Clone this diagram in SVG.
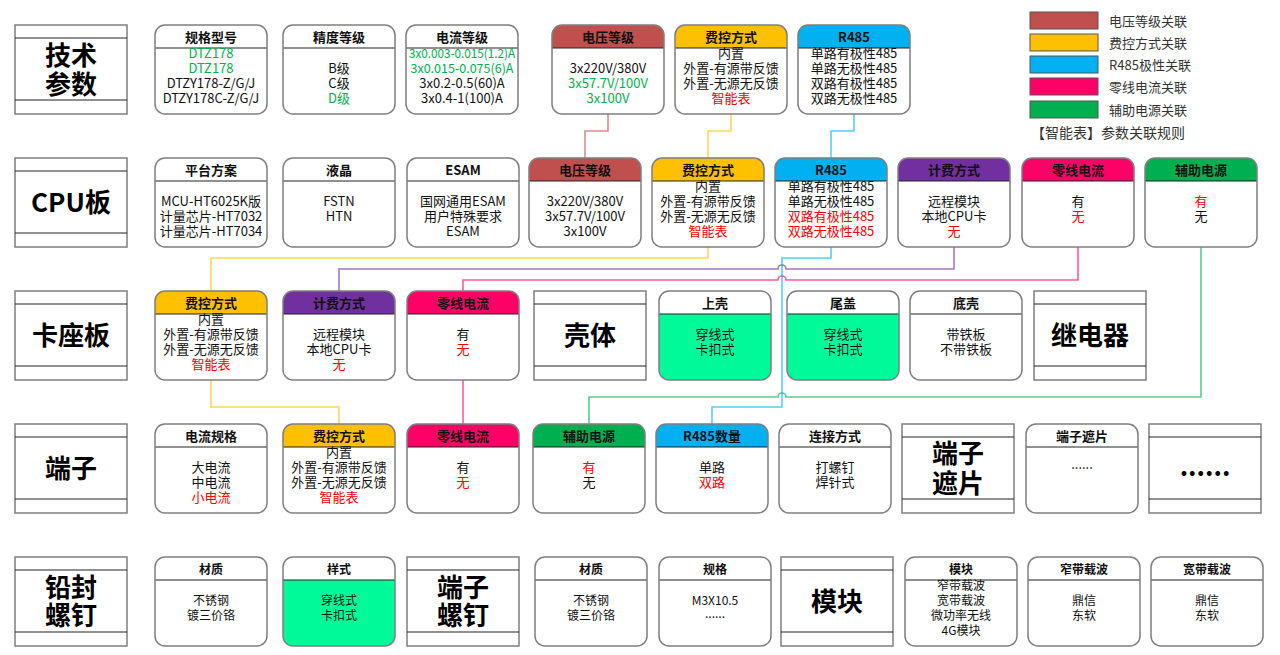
<svg xmlns="http://www.w3.org/2000/svg" xmlns:xlink="http://www.w3.org/1999/xlink" width="1280" height="655" viewBox="0 0 1280 655">
<style>
text{font-family:"Noto Sans CJK SC","Noto Sans",sans-serif;font-size:13px;fill:#111;text-anchor:middle}
.h{font-weight:700}
.s{font-size:12px}
.n{font-size:12.5px}
.g{fill:#00B050}
.r{fill:#FF0000}
.lab{font-size:26px;font-weight:700;fill:#000}
.bg{fill:#fff}
.mint{fill:#00FA9A}
.frame{fill:none;stroke:#7f7f7f;stroke-width:1.5}
.lbox{fill:#fff;stroke:#7f7f7f;stroke-width:1.5}
.sep{stroke:#222;stroke-width:1.2}
.hR{fill:#C0504D}.hY{fill:#FFC000}.hB{fill:#00B0F0}.hP{fill:#7030A0}.hK{fill:#FF0066}.hG{fill:#00B050}.hW{fill:#fff}
.c{fill:none;stroke-width:1.6;stroke-opacity:0.65}
.cR{stroke:#C0504D}.cY{stroke:#FFC000}.cB{stroke:#00B0F0}.cP{stroke:#7030A0}.cK{stroke:#FF0066}.cG{stroke:#00B050}
.leg{stroke:#555;stroke-width:1}
.lt{text-anchor:start;fill:#333}
</style>
<defs>
<path id="hd" d="M0,23 V10 A10,10 0 0 1 10,0 H102 A10,10 0 0 1 112,10 V23 Z"/>
</defs>
<rect width="1280" height="655" fill="#fff"/>

<!-- connectors -->
<g id="connectors">
<path class="c cR" d="M608,114 V131 H585 V158"/>
<path class="c cY" d="M731,114 V131 H708 V158"/>
<path class="c cB" d="M854,114 V131 H831 V158"/>
<path class="c cY" d="M708,247 V258 H211 V291"/>
<path class="c cY" d="M211,380 V407 H339 V424"/>
<path class="c cP" d="M954,247 V269 H786 A4,4 0 0 0 778,269 H339 V291"/>
<path class="c cK" d="M1078,247 V280 H786 A4,4 0 0 0 778,280 H463 V291"/>
<path class="c cK" d="M463,380 V424"/>
<path class="c cG" d="M1201,247 V397 H786 A4,4 0 0 0 778,397 H589 V424"/>
<path class="c cB" d="M831,247 V258 H782 V407 H712 V424"/>
</g>

<!-- legend -->
<g id="legend">
<rect class="leg" x="1030" y="12" width="68" height="17" fill="#C0504D"/>
<rect class="leg" x="1030" y="34" width="68" height="17" fill="#FFC000"/>
<rect class="leg" x="1030" y="56" width="68" height="17" fill="#00B0F0"/>
<rect class="leg" x="1030" y="78" width="68" height="17" fill="#FF0066"/>
<rect class="leg" x="1030" y="101" width="68" height="17" fill="#00B050"/>
<text class="lt" x="1109" y="26">电压等级关联</text>
<text class="lt" x="1109" y="48">费控方式关联</text>
<text class="lt" x="1109" y="70">R485极性关联</text>
<text class="lt" x="1109" y="92">零线电流关联</text>
<text class="lt" x="1109" y="115">辅助电源关联</text>
<text class="lt r" x="1031" y="138" style="font-size:14px">【智能表】参数关联规则</text>
</g>

<!-- label boxes -->
<g id="lab-jishucanshu" transform="translate(15,25)"><rect class="lbox" width="112" height="89"/><line class="sep" x1="0" y1="13" x2="112" y2="13"/><line class="sep" x1="0" y1="75" x2="112" y2="75"/><text class="lab"><tspan x="56" y="40">技术</tspan><tspan x="56" y="69">参数</tspan></text></g>
<g id="lab-cpu" transform="translate(15,158)"><rect class="lbox" width="112" height="89"/><line class="sep" x1="0" y1="13" x2="112" y2="13"/><line class="sep" x1="0" y1="75" x2="112" y2="75"/><text class="lab" x="56" y="54">CPU板</text></g>
<g id="lab-kazuoban" transform="translate(15,291)"><rect class="lbox" width="112" height="89"/><line class="sep" x1="0" y1="13" x2="112" y2="13"/><line class="sep" x1="0" y1="75" x2="112" y2="75"/><text class="lab" x="56" y="54">卡座板</text></g>
<g id="lab-keti" transform="translate(534,291)"><rect class="lbox" width="112" height="89"/><line class="sep" x1="0" y1="13" x2="112" y2="13"/><line class="sep" x1="0" y1="75" x2="112" y2="75"/><text class="lab" x="56" y="54">壳体</text></g>
<g id="lab-jidianqi" transform="translate(1034,291)"><rect class="lbox" width="112" height="89"/><line class="sep" x1="0" y1="13" x2="112" y2="13"/><line class="sep" x1="0" y1="75" x2="112" y2="75"/><text class="lab" x="56" y="54">继电器</text></g>
<g id="lab-duanzi" transform="translate(15,424)"><rect class="lbox" width="112" height="89"/><line class="sep" x1="0" y1="13" x2="112" y2="13"/><line class="sep" x1="0" y1="75" x2="112" y2="75"/><text class="lab" x="56" y="54">端子</text></g>
<g id="lab-duanzizhepian" transform="translate(902,424)"><rect class="lbox" width="112" height="89"/><line class="sep" x1="0" y1="13" x2="112" y2="13"/><line class="sep" x1="0" y1="75" x2="112" y2="75"/><text class="lab"><tspan x="56" y="39">端子</tspan><tspan x="56" y="69">遮片</tspan></text></g>
<g id="lab-more" transform="translate(1149,424)"><rect class="lbox" width="112" height="89"/><line class="sep" x1="0" y1="13" x2="112" y2="13"/><line class="sep" x1="0" y1="75" x2="112" y2="75"/><text class="lab" x="56" y="52">......</text></g>
<g id="lab-qianfeng" transform="translate(15,557)"><rect class="lbox" width="112" height="89"/><line class="sep" x1="0" y1="13" x2="112" y2="13"/><line class="sep" x1="0" y1="75" x2="112" y2="75"/><text class="lab"><tspan x="56" y="40">铅封</tspan><tspan x="56" y="68">螺钉</tspan></text></g>
<g id="lab-duanziluoding" transform="translate(407,557)"><rect class="lbox" width="112" height="89"/><line class="sep" x1="0" y1="13" x2="112" y2="13"/><line class="sep" x1="0" y1="75" x2="112" y2="75"/><text class="lab"><tspan x="56" y="40">端子</tspan><tspan x="56" y="68">螺钉</tspan></text></g>
<g id="lab-mokuai" transform="translate(781,557)"><rect class="lbox" width="112" height="89"/><line class="sep" x1="0" y1="13" x2="112" y2="13"/><line class="sep" x1="0" y1="75" x2="112" y2="75"/><text class="lab" x="56" y="54">模块</text></g>

<!-- row 1 -->
<g id="r1-guige" transform="translate(155,25)"><rect class="bg" width="112" height="89" rx="10"/><line class="sep" x1="0" y1="23" x2="112" y2="23"/><rect class="frame" width="112" height="89" rx="10"/><text class="h" x="56" y="17">规格型号</text><text><tspan class="g" x="56" y="33">DTZ178</tspan><tspan class="g" x="56" y="48">DTZ178</tspan><tspan x="56" y="63">DTZY178-Z/G/J</tspan><tspan x="56" y="78">DTZY178C-Z/G/J</tspan></text></g>
<g id="r1-jingdu" transform="translate(283,25)"><rect class="bg" width="112" height="89" rx="10"/><line class="sep" x1="0" y1="23" x2="112" y2="23"/><rect class="frame" width="112" height="89" rx="10"/><text class="h" x="56" y="17">精度等级</text><text><tspan x="56" y="48">B级</tspan><tspan x="56" y="63">C级</tspan><tspan class="g" x="56" y="78">D级</tspan></text></g>
<g id="r1-dianliu" transform="translate(406,25)"><rect class="bg" width="112" height="89" rx="10"/><line class="sep" x1="0" y1="23" x2="112" y2="23"/><rect class="frame" width="112" height="89" rx="10"/><text class="h" x="56" y="17">电流等级</text><text class="g n" x="56" y="33" textLength="106" lengthAdjust="spacingAndGlyphs">3x0.003-0.015(1.2)A</text><text><tspan class="g n" x="56" y="48">3x0.015-0.075(6)A</tspan><tspan x="56" y="63">3x0.2-0.5(60)A</tspan><tspan x="56" y="78">3x0.4-1(100)A</tspan></text></g>
<g id="r1-dianya" transform="translate(552,25)"><rect class="bg" width="112" height="89" rx="10"/><use xlink:href="#hd" class="hR"/><line class="sep" x1="0" y1="23" x2="112" y2="23"/><rect class="frame" width="112" height="89" rx="10"/><text class="h" x="56" y="17">电压等级</text><text><tspan x="56" y="48">3x220V/380V</tspan><tspan class="g" x="56" y="63">3x57.7V/100V</tspan><tspan class="g" x="56" y="78">3x100V</tspan></text></g>
<g id="r1-feikong" transform="translate(675,25)"><rect class="bg" width="112" height="89" rx="10"/><use xlink:href="#hd" class="hY"/><line class="sep" x1="0" y1="23" x2="112" y2="23"/><rect class="frame" width="112" height="89" rx="10"/><text class="h" x="56" y="17">费控方式</text><text><tspan x="56" y="33">内置</tspan><tspan x="56" y="48">外置-有源带反馈</tspan><tspan x="56" y="63">外置-无源无反馈</tspan><tspan class="r" x="56" y="78">智能表</tspan></text></g>
<g id="r1-r485" transform="translate(798,25)"><rect class="bg" width="112" height="89" rx="10"/><use xlink:href="#hd" class="hB"/><line class="sep" x1="0" y1="23" x2="112" y2="23"/><rect class="frame" width="112" height="89" rx="10"/><text class="h" x="56" y="17">R485</text><text><tspan x="56" y="33">单路有极性485</tspan><tspan x="56" y="48">单路无极性485</tspan><tspan x="56" y="63">双路有极性485</tspan><tspan x="56" y="78">双路无极性485</tspan></text></g>

<!-- row 2 -->
<g id="r2-pingtai" transform="translate(155,158)"><rect class="bg" width="112" height="89" rx="10"/><line class="sep" x1="0" y1="23" x2="112" y2="23"/><rect class="frame" width="112" height="89" rx="10"/><text class="h" x="56" y="17">平台方案</text><text><tspan x="56" y="48">MCU-HT6025K版</tspan><tspan x="56" y="63">计量芯片-HT7032</tspan><tspan x="56" y="78">计量芯片-HT7034</tspan></text></g>
<g id="r2-yejing" transform="translate(283,158)"><rect class="bg" width="112" height="89" rx="10"/><line class="sep" x1="0" y1="23" x2="112" y2="23"/><rect class="frame" width="112" height="89" rx="10"/><text class="h" x="56" y="17">液晶</text><text><tspan x="56" y="48">FSTN</tspan><tspan x="56" y="63">HTN</tspan></text></g>
<g id="r2-esam" transform="translate(407,158)"><rect class="bg" width="112" height="89" rx="10"/><line class="sep" x1="0" y1="23" x2="112" y2="23"/><rect class="frame" width="112" height="89" rx="10"/><text class="h" x="56" y="17">ESAM</text><text><tspan x="56" y="48">国网通用ESAM</tspan><tspan x="56" y="63">用户特殊要求</tspan><tspan x="56" y="78">ESAM</tspan></text></g>
<g id="r2-dianya" transform="translate(529,158)"><rect class="bg" width="112" height="89" rx="10"/><use xlink:href="#hd" class="hR"/><line class="sep" x1="0" y1="23" x2="112" y2="23"/><rect class="frame" width="112" height="89" rx="10"/><text class="h" x="56" y="17">电压等级</text><text><tspan x="56" y="48">3x220V/380V</tspan><tspan x="56" y="63">3x57.7V/100V</tspan><tspan x="56" y="78">3x100V</tspan></text></g>
<g id="r2-feikong" transform="translate(652,158)"><rect class="bg" width="112" height="89" rx="10"/><use xlink:href="#hd" class="hY"/><line class="sep" x1="0" y1="23" x2="112" y2="23"/><rect class="frame" width="112" height="89" rx="10"/><text class="h" x="56" y="17">费控方式</text><text><tspan x="56" y="33">内置</tspan><tspan x="56" y="48">外置-有源带反馈</tspan><tspan x="56" y="63">外置-无源无反馈</tspan><tspan class="r" x="56" y="78">智能表</tspan></text></g>
<g id="r2-r485" transform="translate(775,158)"><rect class="bg" width="112" height="89" rx="10"/><use xlink:href="#hd" class="hB"/><line class="sep" x1="0" y1="23" x2="112" y2="23"/><rect class="frame" width="112" height="89" rx="10"/><text class="h" x="56" y="17">R485</text><text><tspan x="56" y="33">单路有极性485</tspan><tspan x="56" y="48">单路无极性485</tspan><tspan class="r" x="56" y="63">双路有极性485</tspan><tspan class="r" x="56" y="78">双路无极性485</tspan></text></g>
<g id="r2-jifei" transform="translate(898,158)"><rect class="bg" width="112" height="89" rx="10"/><use xlink:href="#hd" class="hP"/><line class="sep" x1="0" y1="23" x2="112" y2="23"/><rect class="frame" width="112" height="89" rx="10"/><text class="h" x="56" y="17">计费方式</text><text><tspan x="56" y="48">远程模块</tspan><tspan x="56" y="63">本地CPU卡</tspan><tspan class="r" x="56" y="78">无</tspan></text></g>
<g id="r2-lingxian" transform="translate(1022,158)"><rect class="bg" width="112" height="89" rx="10"/><use xlink:href="#hd" class="hK"/><line class="sep" x1="0" y1="23" x2="112" y2="23"/><rect class="frame" width="112" height="89" rx="10"/><text class="h" x="56" y="17">零线电流</text><text><tspan x="56" y="48">有</tspan><tspan class="r" x="56" y="63">无</tspan></text></g>
<g id="r2-fuzhu" transform="translate(1145,158)"><rect class="bg" width="112" height="89" rx="10"/><use xlink:href="#hd" class="hG"/><line class="sep" x1="0" y1="23" x2="112" y2="23"/><rect class="frame" width="112" height="89" rx="10"/><text class="h" x="56" y="17">辅助电源</text><text><tspan class="r" x="56" y="48">有</tspan><tspan x="56" y="63">无</tspan></text></g>

<!-- row 3 -->
<g id="r3-feikong" transform="translate(155,291)"><rect class="bg" width="112" height="89" rx="10"/><use xlink:href="#hd" class="hY"/><line class="sep" x1="0" y1="23" x2="112" y2="23"/><rect class="frame" width="112" height="89" rx="10"/><text class="h" x="56" y="17">费控方式</text><text><tspan x="56" y="33">内置</tspan><tspan x="56" y="48">外置-有源带反馈</tspan><tspan x="56" y="63">外置-无源无反馈</tspan><tspan class="r" x="56" y="78">智能表</tspan></text></g>
<g id="r3-jifei" transform="translate(283,291)"><rect class="bg" width="112" height="89" rx="10"/><use xlink:href="#hd" class="hP"/><line class="sep" x1="0" y1="23" x2="112" y2="23"/><rect class="frame" width="112" height="89" rx="10"/><text class="h" x="56" y="17">计费方式</text><text><tspan x="56" y="48">远程模块</tspan><tspan x="56" y="63">本地CPU卡</tspan><tspan class="r" x="56" y="78">无</tspan></text></g>
<g id="r3-lingxian" transform="translate(407,291)"><rect class="bg" width="112" height="89" rx="10"/><use xlink:href="#hd" class="hK"/><line class="sep" x1="0" y1="23" x2="112" y2="23"/><rect class="frame" width="112" height="89" rx="10"/><text class="h" x="56" y="17">零线电流</text><text><tspan x="56" y="48">有</tspan><tspan class="r" x="56" y="63">无</tspan></text></g>
<g id="r3-shangke" transform="translate(659,291)"><rect class="mint" width="112" height="89" rx="10"/><use xlink:href="#hd" class="hW"/><line class="sep" x1="0" y1="23" x2="112" y2="23"/><rect class="frame" width="112" height="89" rx="10"/><text class="h" x="56" y="17">上壳</text><text><tspan x="56" y="48">穿线式</tspan><tspan x="56" y="63">卡扣式</tspan></text></g>
<g id="r3-weigai" transform="translate(787,291)"><rect class="mint" width="112" height="89" rx="10"/><use xlink:href="#hd" class="hW"/><line class="sep" x1="0" y1="23" x2="112" y2="23"/><rect class="frame" width="112" height="89" rx="10"/><text class="h" x="56" y="17">尾盖</text><text><tspan x="56" y="48">穿线式</tspan><tspan x="56" y="63">卡扣式</tspan></text></g>
<g id="r3-dike" transform="translate(910,291)"><rect class="bg" width="112" height="89" rx="10"/><line class="sep" x1="0" y1="23" x2="112" y2="23"/><rect class="frame" width="112" height="89" rx="10"/><text class="h" x="56" y="17">底壳</text><text><tspan x="56" y="48">带铁板</tspan><tspan x="56" y="63">不带铁板</tspan></text></g>

<!-- row 4 -->
<g id="r4-dianliuguige" transform="translate(155,424)"><rect class="bg" width="112" height="89" rx="10"/><line class="sep" x1="0" y1="23" x2="112" y2="23"/><rect class="frame" width="112" height="89" rx="10"/><text class="h" x="56" y="17">电流规格</text><text><tspan x="56" y="48">大电流</tspan><tspan x="56" y="63">中电流</tspan><tspan class="r" x="56" y="78">小电流</tspan></text></g>
<g id="r4-feikong" transform="translate(283,424)"><rect class="bg" width="112" height="89" rx="10"/><use xlink:href="#hd" class="hY"/><line class="sep" x1="0" y1="23" x2="112" y2="23"/><rect class="frame" width="112" height="89" rx="10"/><text class="h" x="56" y="17">费控方式</text><text><tspan x="56" y="33">内置</tspan><tspan x="56" y="48">外置-有源带反馈</tspan><tspan x="56" y="63">外置-无源无反馈</tspan><tspan class="r" x="56" y="78">智能表</tspan></text></g>
<g id="r4-lingxian" transform="translate(407,424)"><rect class="bg" width="112" height="89" rx="10"/><use xlink:href="#hd" class="hK"/><line class="sep" x1="0" y1="23" x2="112" y2="23"/><rect class="frame" width="112" height="89" rx="10"/><text class="h" x="56" y="17">零线电流</text><text><tspan x="56" y="48">有</tspan><tspan class="r" x="56" y="63">无</tspan></text></g>
<g id="r4-fuzhu" transform="translate(533,424)"><rect class="bg" width="112" height="89" rx="10"/><use xlink:href="#hd" class="hG"/><line class="sep" x1="0" y1="23" x2="112" y2="23"/><rect class="frame" width="112" height="89" rx="10"/><text class="h" x="56" y="17">辅助电源</text><text><tspan class="r" x="56" y="48">有</tspan><tspan x="56" y="63">无</tspan></text></g>
<g id="r4-r485num" transform="translate(656,424)"><rect class="bg" width="112" height="89" rx="10"/><use xlink:href="#hd" class="hB"/><line class="sep" x1="0" y1="23" x2="112" y2="23"/><rect class="frame" width="112" height="89" rx="10"/><text class="h" x="56" y="17">R485数量</text><text><tspan x="56" y="48">单路</tspan><tspan class="r" x="56" y="63">双路</tspan></text></g>
<g id="r4-lianjie" transform="translate(779,424)"><rect class="bg" width="112" height="89" rx="10"/><line class="sep" x1="0" y1="23" x2="112" y2="23"/><rect class="frame" width="112" height="89" rx="10"/><text class="h" x="56" y="17">连接方式</text><text><tspan x="56" y="48">打螺钉</tspan><tspan x="56" y="63">焊针式</tspan></text></g>
<g id="r4-zhepian" transform="translate(1026,424)"><rect class="bg" width="112" height="89" rx="10"/><line class="sep" x1="0" y1="23" x2="112" y2="23"/><rect class="frame" width="112" height="89" rx="10"/><text class="h" x="56" y="17">端子遮片</text><text x="56" y="45">......</text></g>

<!-- row 5 -->
<g id="r5-caizhi1" transform="translate(155,557)"><rect class="bg" width="112" height="89" rx="10"/><line class="sep" x1="0" y1="23" x2="112" y2="23"/><rect class="frame" width="112" height="89" rx="10"/><text class="h s" x="56" y="17">材质</text><text class="s"><tspan x="56" y="48">不锈钢</tspan><tspan x="56" y="63">镀三价铬</tspan></text></g>
<g id="r5-yangshi" transform="translate(283,557)"><rect class="mint" width="112" height="89" rx="10"/><use xlink:href="#hd" class="hW"/><line class="sep" x1="0" y1="23" x2="112" y2="23"/><rect class="frame" width="112" height="89" rx="10"/><text class="h s" x="56" y="17">样式</text><text class="s"><tspan x="56" y="48">穿线式</tspan><tspan x="56" y="63">卡扣式</tspan></text></g>
<g id="r5-caizhi2" transform="translate(535,557)"><rect class="bg" width="112" height="89" rx="10"/><line class="sep" x1="0" y1="23" x2="112" y2="23"/><rect class="frame" width="112" height="89" rx="10"/><text class="h s" x="56" y="17">材质</text><text class="s"><tspan x="56" y="48">不锈钢</tspan><tspan x="56" y="63">镀三价铬</tspan></text></g>
<g id="r5-guige" transform="translate(659,557)"><rect class="bg" width="112" height="89" rx="10"/><line class="sep" x1="0" y1="23" x2="112" y2="23"/><rect class="frame" width="112" height="89" rx="10"/><text class="h s" x="56" y="17">规格</text><text class="s"><tspan x="56" y="48">M3X10.5</tspan><tspan x="56" y="61">......</tspan></text></g>
<g id="r5-mokuai" transform="translate(905,557)"><rect class="bg" width="112" height="89" rx="10"/><line class="sep" x1="0" y1="23" x2="112" y2="23"/><rect class="frame" width="112" height="89" rx="10"/><text class="h s" x="56" y="17">模块</text><text class="s"><tspan x="56" y="33">窄带载波</tspan><tspan x="56" y="48">宽带载波</tspan><tspan x="56" y="63">微功率无线</tspan><tspan x="56" y="78">4G模块</tspan></text></g>
<g id="r5-zhaidai" transform="translate(1028,557)"><rect class="bg" width="112" height="89" rx="10"/><line class="sep" x1="0" y1="23" x2="112" y2="23"/><rect class="frame" width="112" height="89" rx="10"/><text class="h s" x="56" y="17">窄带载波</text><text class="s"><tspan x="56" y="48">鼎信</tspan><tspan x="56" y="63">东软</tspan></text></g>
<g id="r5-kuandai" transform="translate(1151,557)"><rect class="bg" width="112" height="89" rx="10"/><line class="sep" x1="0" y1="23" x2="112" y2="23"/><rect class="frame" width="112" height="89" rx="10"/><text class="h s" x="56" y="17">宽带载波</text><text class="s"><tspan x="56" y="48">鼎信</tspan><tspan x="56" y="63">东软</tspan></text></g>
</svg>
